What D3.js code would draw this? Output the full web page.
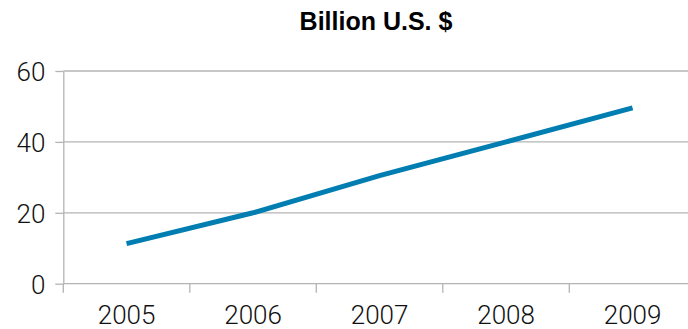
<!DOCTYPE html>
<html>
<head>
<meta charset="utf-8">
<script src="https://cdn.jsdelivr.net/npm/d3@7"></script>
<style>
  html, body { margin: 0; padding: 0; background: #fff; }
  svg { display: block; }
  text { font-family: "Liberation Sans", Arial, Helvetica, sans-serif; }
  .tick-label { font-family: Roboto, "Liberation Sans", Arial, sans-serif; font-weight: 300; }
</style>
</head>
<body>
<svg id="chart" width="688" height="329"></svg>
<script>
// Annual values in billion U.S. dollars
const years = ["2005", "2006", "2007", "2008", "2009"];
const values = [11.3, 20, 30.5, 40, 49.6];
const yTicks = [0, 20, 40, 60];
const title = "Billion U.S. $";

const width = 688, height = 329;
const margin = { top: 71, left: 63.3, bottom: 45.3 };
const plotWidth = 632.5;

const svg = d3.select("#chart");

const x = d3.scaleBand()
  .domain(years)
  .range([margin.left, margin.left + plotWidth])
  .padding(0);

const y = d3.scaleLinear()
  .domain([0, 60])
  .range([height - margin.bottom, margin.top]);

// Horizontal gridlines
svg.append("g")
  .selectAll("line")
  .data(yTicks.filter(d => d !== 0))
  .join("line")
  .attr("x1", margin.left)
  .attr("x2", margin.left + plotWidth)
  .attr("y1", d => y(d))
  .attr("y2", d => y(d))
  .attr("stroke", "#b4b4b4")
  .attr("stroke-width", 1.3);

// Y axis with outward ticks
const yAxis = svg.append("g")
  .attr("transform", `translate(${margin.left},0)`)
  .call(d3.axisLeft(y).tickValues(yTicks).tickSize(8).tickPadding(10).tickSizeOuter(0));
yAxis.select(".domain").attr("stroke", "#b4b4b4").attr("stroke-width", 1.3);
yAxis.selectAll(".tick line").attr("stroke", "#b4b4b4").attr("stroke-width", 1.3);
yAxis.selectAll(".tick text")
  .attr("class", "tick-label")
  .attr("font-size", 26)
  .attr("fill", "#111")
  .attr("dy", "0.36em");

// X axis: ticks sit on category boundaries
const xAxisG = svg.append("g")
  .attr("transform", `translate(0,${y(0)})`);
xAxisG.append("line")
  .attr("x1", margin.left)
  .attr("x2", margin.left + plotWidth)
  .attr("stroke", "#b4b4b4")
  .attr("stroke-width", 1.3);
xAxisG.selectAll("line.tick")
  .data(years)
  .join("line")
  .attr("class", "tick")
  .attr("x1", d => x(d))
  .attr("x2", d => x(d))
  .attr("y1", 0)
  .attr("y2", 9)
  .attr("stroke", "#b4b4b4")
  .attr("stroke-width", 1.3);
xAxisG.selectAll("text")
  .data(years)
  .join("text")
  .attr("class", "tick-label")
  .attr("x", d => x(d) + x.bandwidth() / 2)
  .attr("y", 40)
  .attr("text-anchor", "middle")
  .attr("font-size", 26)
  .attr("fill", "#111")
  .text(d => d);

// Data line
const line = d3.line()
  .x((d, i) => x(years[i]) + x.bandwidth() / 2)
  .y(d => y(d));

svg.append("path")
  .datum(values)
  .attr("d", line)
  .attr("fill", "none")
  .attr("stroke", "#007db1")
  .attr("stroke-width", 5);

// Title
svg.append("text")
  .attr("x", 376)
  .attr("y", 30)
  .attr("text-anchor", "middle")
  .attr("font-size", 25)
  .attr("font-weight", "bold")
  .attr("fill", "#000")
  .text(title);
</script>
</body>
</html>
